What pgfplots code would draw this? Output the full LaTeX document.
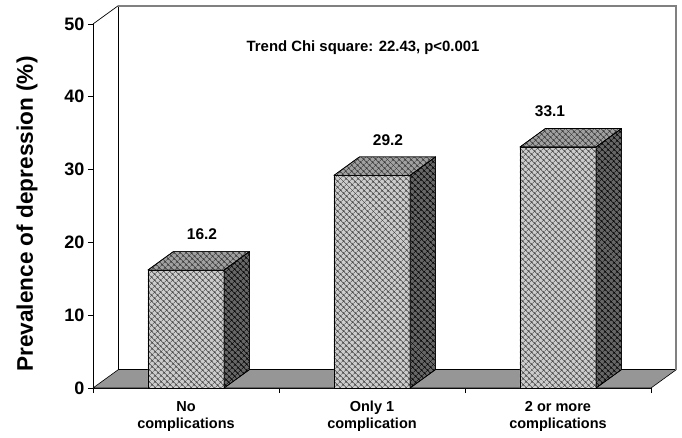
\documentclass[border=0pt]{standalone}
\usepackage{pgfplots}
\pgfplotsset{compat=1.18}
\usepackage{pgfplotstable}
\usetikzlibrary{patterns.meta}
\usepackage{fontspec}
\setmainfont{Liberation Sans}

\definecolor{floorgray}{HTML}{969696}
\definecolor{frontbg}{HTML}{CCCCCC}
\definecolor{topbg}{HTML}{A0A0A0}
\definecolor{sidebg}{HTML}{666666}
\definecolor{wallgray}{HTML}{808080}

\pgfplotstableread{
pos value lx
0.5 16.2 0.586
1.5 29.2 1.586
2.5 33.1 2.457
}\prevdata

% unit shapes for the 3-D faces (a: across / fraction of value, b: depth fraction)
\pgfplotstableread{
a b
-1 0
1 0
1 1
-1 1
-1 0
}\topunit
\pgfplotstableread{
a b
0 0
1 0
1 1
0 1
0 0
}\sideunit

\newcommand\depx{0.137}
\newcommand\depy{2.54}
\newcommand\halfw{0.205}

\tikzset{
  hatchA/.style={postaction={pattern={Hatch[angle=45,distance=4pt,line width=0.55pt]}, pattern color=#1}},
}

\begin{document}
\begin{tikzpicture}
\begin{axis}[
  at={(0,0)}, anchor=origin,
  x=186pt, y=7.28pt,
  xmin=0, xmax=3, ymin=0, ymax=50,
  axis x line*=bottom, axis y line*=left,
  axis line style={black, line width=0.9pt, -},
  clip=false,
  tick align=outside,
  major tick length=5pt,
  tick style={black, line width=0.8pt},
  xtick={0,1,2,3}, xticklabels={},
  extra x ticks={0.5,1.5,2.5},
  extra x tick labels={{\strut No\\complications},{\strut Only 1\\complication},{\strut 2 or more\\complications}},
  extra x tick style={major tick length=0pt},
  ytick={0,10,...,50},
  /pgf/number format/assume math mode=true,
  y tick label style={font=\fontsize{18}{18}\selectfont\bfseries},
  x tick label style={font=\fontsize{14.5}{17}\selectfont\bfseries, align=center, yshift=-8pt},
  ylabel={Prevalence of depression (\%)},
  ylabel style={font=\fontsize{22.6}{22.6}\selectfont\bfseries, at={(axis description cs:-0.118,0.478)}, anchor=center},
]
% floor
\addplot[fill=floorgray, draw=black, line width=0.6pt, mark=none, line join=round]
  coordinates {(0,0) (3,0) (3.137,2.54) (0.137,2.54) (0,0)};
% walls
\addplot[black, line width=1.2pt, mark=none] coordinates {(0.137,2.54) (0.137,52.54)};
\addplot[black, line width=0.7pt, mark=none] coordinates {(0,50) (0.137,52.54)};
\addplot[wallgray, line width=2pt, mark=none] coordinates {(0.137,52.54) (3.137,52.54) (3.137,2.54)};

% front faces of the bars
\addplot[ybar, bar width=0.41, fill=frontbg, draw=black, line width=0.6pt,
  hatchA=black!75] table[x=pos, y=value]{\prevdata};

% top and side faces
\pgfplotsinvokeforeach{0,1,2}{
  \pgfplotstablegetelem{#1}{value}\of\prevdata \edef\curv{\pgfplotsretval}
  \pgfplotstablegetelem{#1}{pos}\of\prevdata \edef\curx{\pgfplotsretval}
  \addplot[fill=topbg, draw=black, line width=0.6pt, mark=none, line join=round, hatchA=black!80]
    table[x expr={\curx+\thisrow{a}*\halfw+\thisrow{b}*\depx}, y expr={\curv+\thisrow{b}*\depy}]{\topunit};
  \addplot[fill=sidebg, draw=black, line width=0.6pt, mark=none, line join=round, hatchA=black]
    table[x expr={\curx+\halfw+\thisrow{b}*\depx}, y expr={\thisrow{a}*\curv+\thisrow{b}*\depy}]{\sideunit};
}

% value labels
\addplot[draw=none, mark=none, nodes near coords, point meta=explicit,
  nodes near coords style={font=\fontsize{15.5}{15.5}\selectfont\bfseries, anchor=center,
    /pgf/number format/fixed, /pgf/number format/precision=1, /pgf/number format/fixed zerofill}]
  table[x=lx, y expr=\thisrow{value}+4.88, meta=value]{\prevdata};

\node[font=\fontsize{14.9}{14.9}\selectfont\bfseries] at (axis cs:1.452,46.7) {Trend Chi square: 22.43, p<0.001};
\end{axis}
\pgfresetboundingbox
\path[use as bounding box] (-93pt,-49pt) rectangle (589pt,388pt);
\end{tikzpicture}
\end{document}
